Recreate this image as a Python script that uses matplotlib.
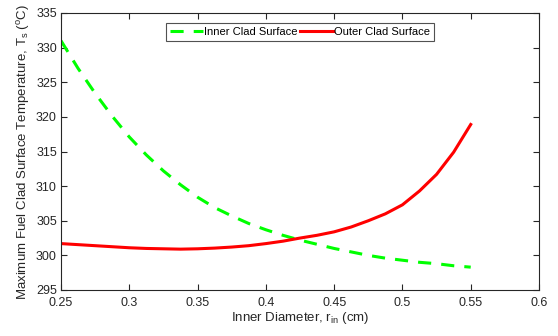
import numpy as np
import matplotlib
matplotlib.use("Agg")
import matplotlib.pyplot as plt

plt.rcParams['font.family'] = ['Liberation Sans', 'DejaVu Sans']
plt.rcParams['mathtext.fontset'] = 'custom'
plt.rcParams['mathtext.rm'] = 'Liberation Sans'
plt.rcParams['mathtext.it'] = 'Liberation Sans'

# inner diameter (cm)
r_in = [0.25, 0.2625, 0.275, 0.2875, 0.3, 0.3125, 0.325, 0.3375, 0.35, 0.3625,
        0.375, 0.3875, 0.4, 0.4125, 0.425, 0.4375, 0.45, 0.4625, 0.475, 0.4875,
        0.5, 0.5125, 0.525, 0.5375, 0.55]
# inner clad surface temperature (C)
t_inner = [331.0, 327.0, 323.4, 320.1, 317.1, 314.5, 312.2, 310.2, 308.4, 306.9,
           305.7, 304.6, 303.7, 302.9, 302.2, 301.6, 301.0, 300.5, 300.0, 299.6,
           299.3, 299.0, 298.8, 298.5, 298.3]
# outer clad surface temperature (C)
t_outer = [301.7, 301.55, 301.4, 301.25, 301.1, 301.0, 300.95, 300.9, 300.95, 301.05,
           301.2, 301.4, 301.7, 302.05, 302.5, 302.9, 303.4, 304.1, 305.0, 306.0,
           307.3, 309.3, 311.7, 314.9, 318.9]

fig = plt.figure(figsize=(5.58, 3.36), dpi=100)
ax = fig.add_axes([61/558, 1 - 290/336, 478/558, 277/336])

ax.plot(r_in, t_inner, color='#00ff00', lw=2.2, ls=(0, (4.3, 3.3)), label='Inner Clad Surface')
ax.plot(r_in, t_outer, color='#ff0000', lw=2.2, label='Outer Clad Surface')

ax.set_xlim(0.25, 0.6)
ax.set_ylim(295, 335)
ax.set_xticks(np.arange(0.25, 0.601, 0.05))
ax.set_xticklabels(['0.25', '0.3', '0.35', '0.4', '0.45', '0.5', '0.55', '0.6'])
ax.set_yticks(np.arange(295, 336, 5))

for s in ax.spines.values():
    s.set_color('#262626')
    s.set_linewidth(0.8)
ax.tick_params(direction='in', top=True, right=True, length=4, width=0.8,
               colors='#262626', labelsize=9, labelcolor='#262626', pad=3)
ax.tick_params(axis='x', pad=5)

ax.set_xlabel('Inner Diameter, r$_{\\mathrm{in}}$ (cm)', fontsize=9.5, color='#262626', labelpad=1)
ax.set_ylabel('Maximum Fuel Clad Surface Temperature, T$_{\\mathrm{s}}$ ($^{\\mathrm{o}}$C)',
              fontsize=9.5, color='#262626', labelpad=3)

leg = ax.legend(loc='upper center', bbox_to_anchor=(0.5, 0.964), ncol=2, fontsize=8,
                frameon=True, fancybox=False, edgecolor='#262626', handlelength=3,
                columnspacing=0.2, handletextpad=0.1, borderpad=0.35, borderaxespad=0)
leg.get_frame().set_linewidth(0.8)

fig.savefig('out.png', dpi=100)
